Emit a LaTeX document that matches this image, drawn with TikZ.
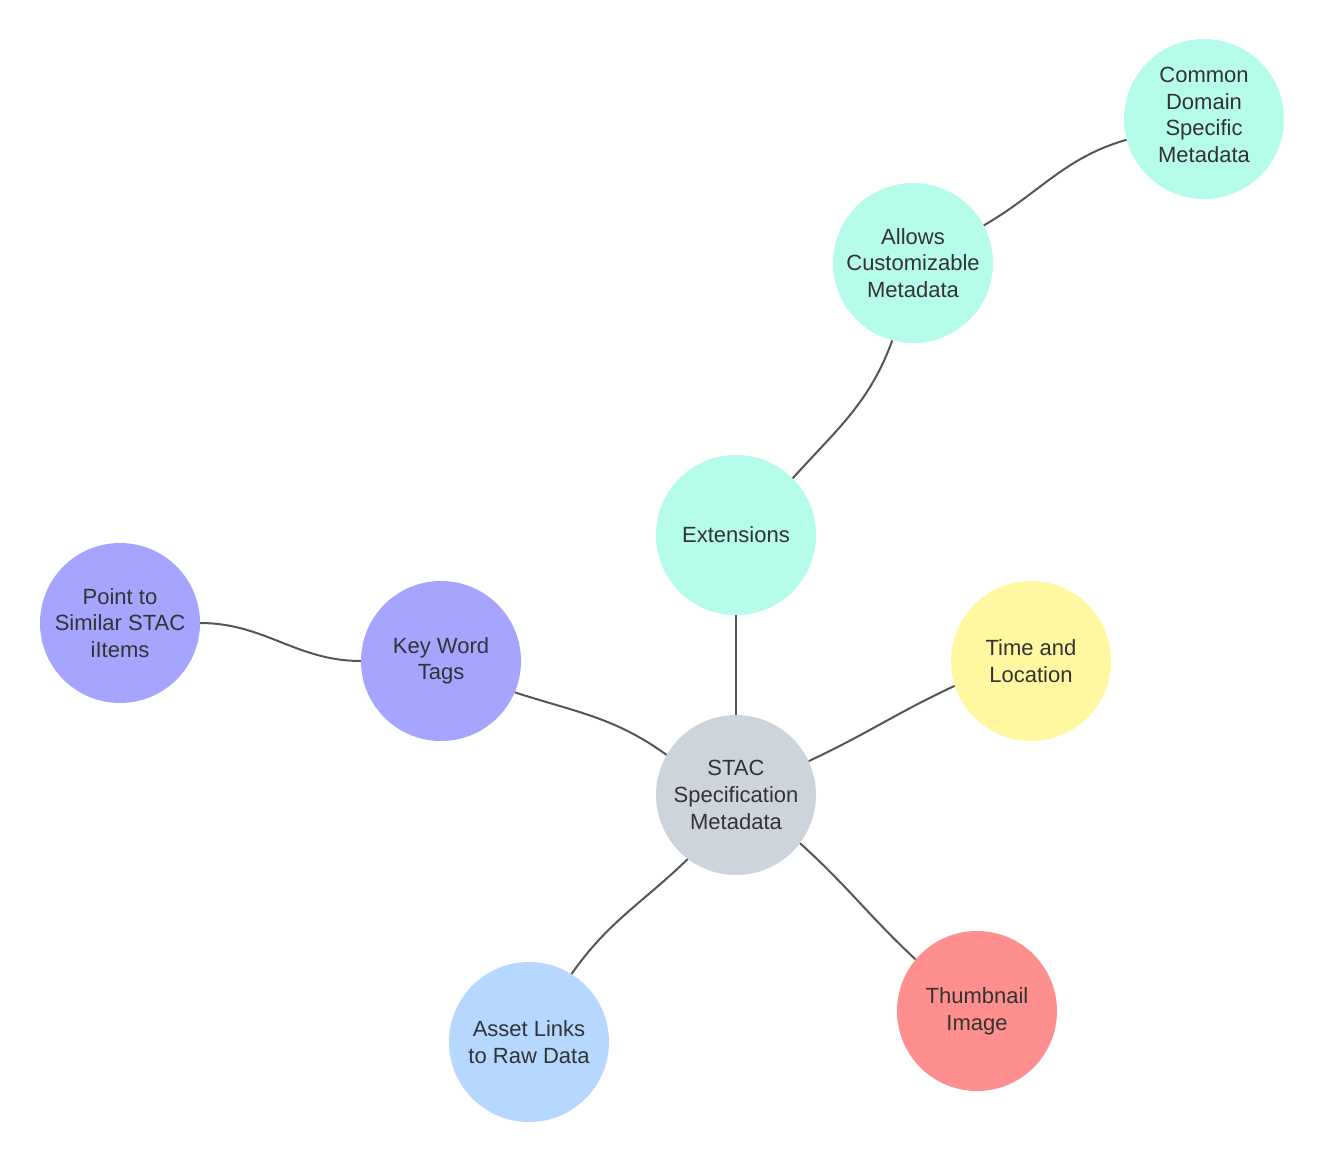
\documentclass[tikz,border=0pt]{standalone}
\usepackage{fontspec}
\setmainfont{Liberation Sans}
\definecolor{cgray}{HTML}{CED4DC}
\definecolor{ccyan}{HTML}{B5FCEB}
\definecolor{cyellow}{HTML}{FFF8A0}
\definecolor{cred}{HTML}{FF8F8F}
\definecolor{cblue}{HTML}{B6D7FF}
\definecolor{cpurple}{HTML}{A5A5FF}
\definecolor{ctext}{HTML}{333333}
\definecolor{cline}{HTML}{555555}
\begin{document}
\begin{tikzpicture}[x=1pt,y=1pt,
  bubble/.style={circle,minimum size=160pt,inner sep=0pt,align=center,text=ctext,
    font=\fontsize{22}{26.6}\selectfont},
  link/.style={draw=cline,line width=2pt}]
\useasboundingbox (0,0) rectangle (1324,-1162);
\node[bubble,fill=cgray]   (stac)  at (736,-795)  {STAC\\Specification\\Metadata};
\node[bubble,fill=ccyan]   (ext)   at (736,-535)  {Extensions};
\node[bubble,fill=ccyan]   (allow) at (913,-263)  {Allows\\Customizable\\Metadata};
\node[bubble,fill=ccyan]   (comm)  at (1204,-119) {Common\\Domain\\Specific\\Metadata\\[-18.6pt]};
\node[bubble,fill=cyellow] (time)  at (1031,-661) {Time and\\Location};
\node[bubble,fill=cred]    (thumb) at (977,-1011) {Thumbnail\\Image};
\node[bubble,fill=cblue]   (asset) at (529,-1042) {Asset Links\\to Raw Data};
\node[bubble,fill=cpurple] (key)   at (441,-661)  {Key Word\\Tags};
\node[bubble,fill=cpurple] (point) at (120,-623)  {Point to\\Similar STAC\\iItems};
\draw[link] (stac.90) -- (ext.270);
\draw[link] (stac.150) to[out=144,in=-18] (key.-23);
\draw[link] (key.180) to[out=180,in=0] (point.0);
\draw[link] (stac.25) to[out=25,in=205] (time.198);
\draw[link] (stac.-37) to[out=-42,in=137] (thumb.140);
\draw[link] (stac.233) to[out=224,in=55] (asset.58);
\draw[link] (ext.45) to[out=48,in=250] (allow.255);
\draw[link] (allow.28) to[out=30,in=196] (comm.195);
\end{tikzpicture}
\end{document}
